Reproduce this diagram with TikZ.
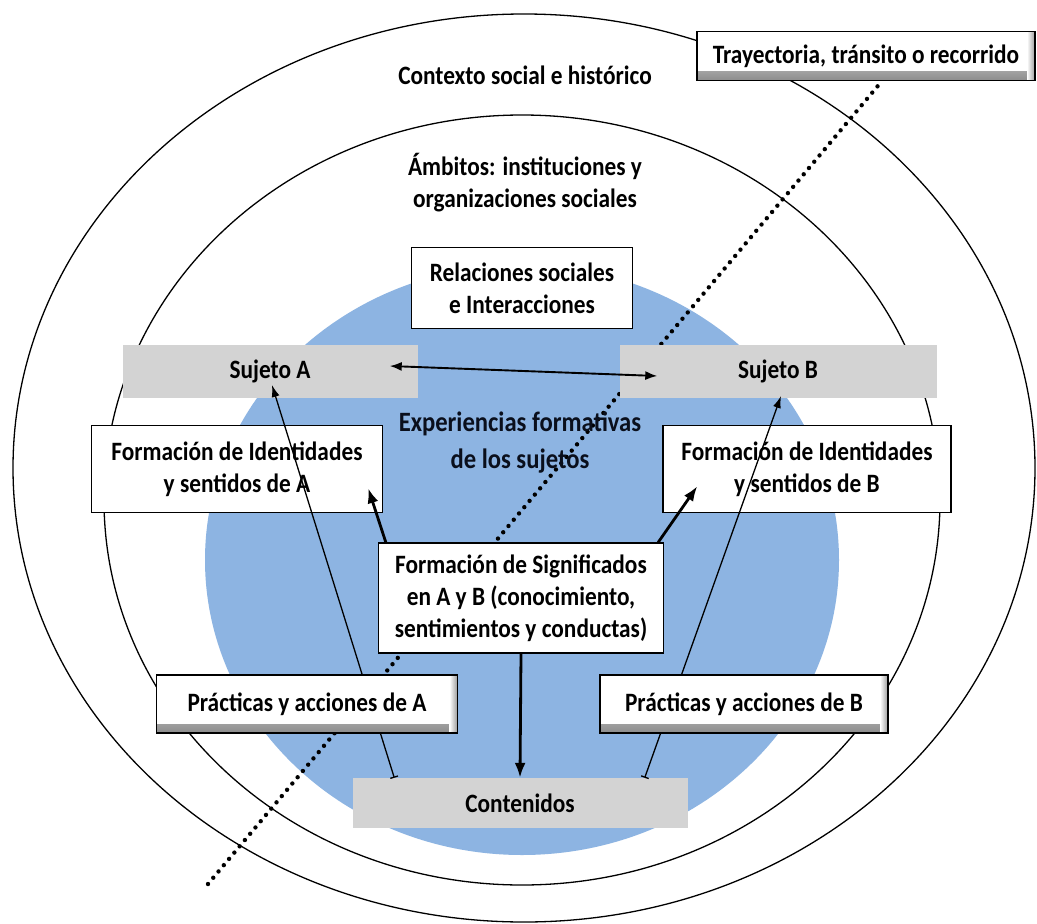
\documentclass[tikz,border=0pt]{standalone}
\usepackage{fontspec}
\setmainfont{Carlito}[FakeStretch=0.88]
\usetikzlibrary{arrows.meta}
\definecolor{azul}{HTML}{8DB4E2}
\definecolor{gris}{HTML}{D3D3D3}
\definecolor{tinta}{HTML}{0A0F1C}

\begin{document}
\begin{tikzpicture}[x=1pt,y=-1pt]
    \tikzset{%
      caja/.style={draw=black, line width=1.4pt, fill=white, align=center,
        inner sep=0pt, font=\bfseries\fontsize{26.5}{32}\selectfont},
      bisel/.style={caja, path picture={
        \shade[top color=white, bottom color=black!45]
          ([yshift=9pt]path picture bounding box.south west) rectangle
          (path picture bounding box.south east);
        \shade[left color=white, right color=black!40]
          ([xshift=-8pt]path picture bounding box.north east) rectangle
          (path picture bounding box.south east);}},
      gcaja/.style={fill=gris, align=center, inner sep=0pt,
        font=\bfseries\fontsize{26.5}{32}\selectfont},
      rotulo/.style={align=center, font=\bfseries\fontsize{26.5}{32}\selectfont},
      fina/.style={line width=1.3pt},
      gruesa/.style={line width=2.8pt, -{Latex[length=15pt,width=11pt]}},
      punteado/.style={line width=4.4pt, dash pattern=on 0pt off 8.2pt,
        line cap=round},
    }
    \fill[white] (0,0) rectangle (1037,924);
    \useasboundingbox (0,0) rectangle (1037,924);

    \draw[fina] (524,468) ellipse [x radius=511, y radius=454];
    \draw[fina] (522,500) ellipse [x radius=418, y radius=385];
    \fill[azul] (522,560) ellipse [x radius=317, y radius=295];

    \coordinate (trS) at (208,884);
    \coordinate (trN) at (882,81);
    \draw[punteado] (trS) -- (trN);

    \node[rotulo] (ctx) at (525,75) {Contexto social e histórico};
    \node[rotulo] (amb) at (525,183) {Ámbitos: instituciones y\\organizaciones sociales};
    \node[rotulo, text=tinta, font=\bfseries\fontsize{28}{37}\selectfont]
      (exp) at (520,443) {Experiencias formativas\\de los sujetos};

    \node[gcaja, minimum width=295pt, minimum height=53pt] (sA) at (270,371) {Sujeto A};
    \node[gcaja, minimum width=317pt, minimum height=53pt] (sB) at (778,371) {Sujeto B};
    \node[caja, minimum width=221pt, minimum height=81pt] (rel) at (522,288)
      {Relaciones sociales\\e Interacciones};
    \node[caja, minimum width=291pt, minimum height=87pt] (iA) at (237,469)
      {Formación de Identidades\\y sentidos de A};
    \node[caja, minimum width=288pt, minimum height=87pt] (iB) at (807,469)
      {Formación de Identidades\\y sentidos de B};
    \node[caja, minimum width=285pt, minimum height=110pt] (sig) at (521,598)
      {Formación de Significados\\en A y B (conocimiento,\\sentimientos y conductas)};
    \node[gcaja, minimum width=335pt, minimum height=50pt] (cont) at (520,803) {Contenidos};

    \draw[line width=1.9pt, {Latex[length=12pt,width=9pt]}-{Latex[length=12pt,width=9pt]}]
      ([xshift=-28pt,yshift=5pt]sA.east) -- ([xshift=38pt,yshift=-5pt]sB.west);
    \draw[fina, {Bar[width=8pt]}-{Latex[length=12pt,width=8pt]}]
      ([xshift=42pt]cont.north west) -- ([xshift=2pt,yshift=-14pt]sA.center);
    \draw[fina, {Bar[width=8pt]}-{Latex[length=12pt,width=8pt]}]
      ([xshift=-43pt]cont.north east) -- ([xshift=3pt,yshift=-25pt]sB.center);

    \draw[gruesa] ([xshift=8pt]sig.north west) -- ([xshift=-15pt,yshift=25pt]iA.south east);
    \draw[gruesa] ([xshift=-6pt]sig.north east) -- ([xshift=35pt,yshift=27pt]iB.south west);
    \draw[gruesa] (sig.south) -- (cont.north);

    \node[bisel, minimum width=301pt, minimum height=58pt] (pA) at (307,704)
      {Prácticas y acciones de A};
    \node[bisel, minimum width=288pt, minimum height=58pt] (pB) at (744,704)
      {Prácticas y acciones de B};
    \node[bisel, minimum width=338pt, minimum height=49pt] (traj) at (866,56)
      {Trayectoria, tránsito o recorrido};
\end{tikzpicture}
\end{document}
